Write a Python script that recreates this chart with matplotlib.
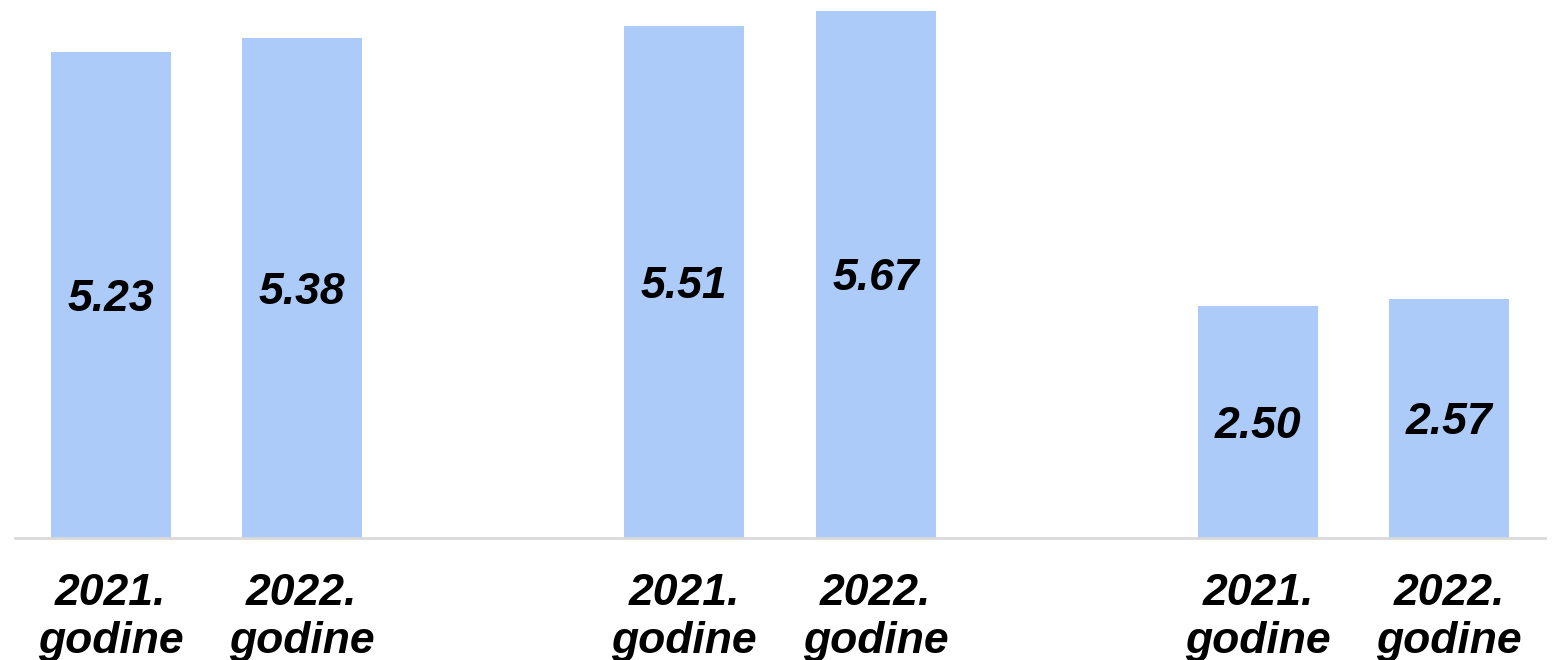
import matplotlib.pyplot as plt
import numpy as np

# values
positions = [0, 1, 3, 4, 6, 7]
values = [5.23, 5.38, 5.51, 5.67, 2.50, 2.57]
tick_labels = ['2021.\ngodine', '2022.\ngodine'] * 3

bar_color = '#ADCBF8'
font = {'family': 'Liberation Sans', 'weight': 'bold', 'style': 'italic', 'size': 32}

fig = plt.figure(figsize=(15.53, 6.6), dpi=100)
ax = fig.add_axes([15 / 1553, 122 / 660, 1530 / 1553, 538 / 660])

bars = ax.bar(positions, values, width=0.627, color=bar_color)
for b, v in zip(bars, values):
    ax.text(b.get_x() + b.get_width() / 2, v / 2, '%.2f' % v,
            ha='center', va='center_baseline', color='black', **font)

ax.set_xlim(-0.5, 7.5)
ax.set_ylim(0, 5.785)
ax.set_xticks(positions)
ax.set_xticklabels(tick_labels, linespacing=1.22, **font)
ax.tick_params(axis='x', length=0, pad=25)
ax.set_yticks([])
for side in ['top', 'right', 'left']:
    ax.spines[side].set_visible(False)
ax.spines['bottom'].set_color('#d9d9d9')
ax.spines['bottom'].set_linewidth(2)

fig.savefig('out.png', dpi=100)
